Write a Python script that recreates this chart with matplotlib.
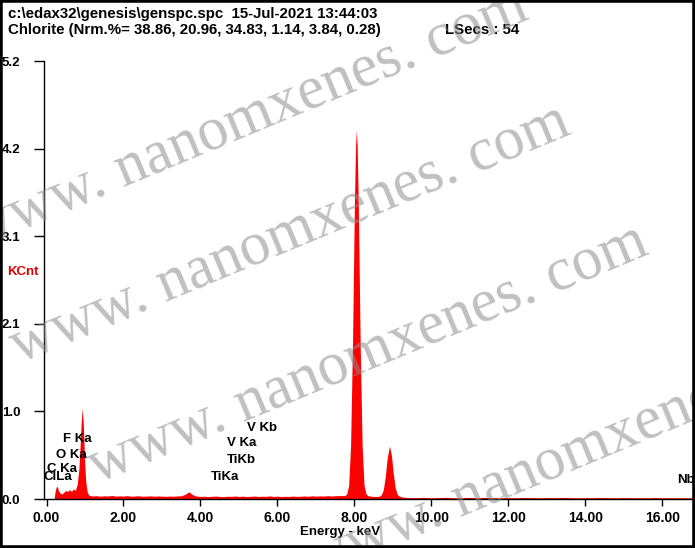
import matplotlib
matplotlib.use("Agg")
import matplotlib.pyplot as plt
from matplotlib.patches import Rectangle

# ---------------- data ----------------
energy_kev = [
    0.20, 0.22, 0.25, 0.28, 0.31, 0.35, 0.40, 0.45, 0.50, 0.55, 0.60, 0.65,
    0.70, 0.75, 0.80, 0.84, 0.87, 0.90, 0.93, 0.96, 0.99, 1.02, 1.06, 1.10,
    1.2, 1.3, 1.4, 1.5, 1.6, 1.7, 1.8, 1.9, 2.0, 2.1, 2.2, 2.3, 2.4, 2.5,
    2.6, 2.7, 2.8, 2.9, 3.0, 3.1, 3.2, 3.3, 3.4, 3.5, 3.6, 3.7, 3.8, 3.9,
    4.0, 4.1, 4.2, 4.3, 4.4, 4.5, 4.6, 4.7, 4.8, 4.9, 5.0, 5.1, 5.2, 5.3,
    5.4, 5.5, 5.6, 5.7, 5.8, 5.9, 6.0, 6.1, 6.2, 6.3, 6.4, 6.5, 6.6, 6.7,
    6.8, 6.9, 7.0, 7.1, 7.2, 7.3, 7.4, 7.5, 7.6, 7.7,
    7.75, 7.80, 7.85, 7.90, 7.95, 8.00, 8.03, 8.05, 8.07, 8.10, 8.15, 8.20,
    8.25, 8.30, 8.35, 8.40, 8.45, 8.50, 8.55, 8.60, 8.65, 8.70, 8.75, 8.80,
    8.85, 8.91, 8.96, 9.01, 9.06, 9.11, 9.16, 9.25,
    9.4, 9.6, 9.8, 10.0, 10.2, 10.4, 10.6, 10.8, 11.0, 11.2, 11.4, 11.6,
    11.8, 12.0, 12.2, 12.4, 12.6, 12.8, 13.0, 13.2, 13.4, 13.6, 13.8, 14.0,
    14.2, 14.4, 14.6, 14.8, 15.0, 15.2, 15.4, 15.6, 15.8, 16.0, 16.2, 16.4,
    16.6, 16.8,
]
counts_kcnt = [
    0.00, 0.08, 0.14, 0.15, 0.10, 0.07, 0.06, 0.08, 0.10, 0.09, 0.11, 0.09,
    0.12, 0.10, 0.18, 0.35, 0.60, 0.90, 1.08, 0.85, 0.45, 0.20, 0.08, 0.045,
    0.035, 0.040, 0.033, 0.038, 0.036, 0.042, 0.034, 0.037, 0.035, 0.040, 0.033, 0.036, 0.038, 0.032,
    0.035, 0.037, 0.033, 0.036, 0.034, 0.031, 0.035, 0.033, 0.036, 0.038, 0.055, 0.085, 0.050, 0.034,
    0.030, 0.033, 0.029, 0.032, 0.035, 0.030, 0.028, 0.033, 0.031, 0.036, 0.030, 0.034, 0.029, 0.032,
    0.035, 0.030, 0.033, 0.031, 0.037, 0.030, 0.034, 0.029, 0.032, 0.030, 0.035, 0.031, 0.033, 0.036,
    0.032, 0.038, 0.034, 0.037, 0.035, 0.040, 0.036, 0.039, 0.041, 0.040,
    0.040, 0.060, 0.160, 0.630, 1.830, 3.520, 4.200, 4.380, 4.200, 3.520, 1.830, 0.630,
    0.160, 0.060, 0.040, 0.035, 0.032, 0.030, 0.031, 0.030, 0.033, 0.050, 0.110, 0.260,
    0.480, 0.630, 0.520, 0.300, 0.130, 0.056, 0.035, 0.022,
    0.018, 0.016, 0.019, 0.015, 0.017, 0.020, 0.014, 0.016, 0.018, 0.015, 0.019, 0.016,
    0.014, 0.017, 0.015, 0.018, 0.016, 0.014, 0.017, 0.015, 0.019, 0.016, 0.014, 0.017,
    0.015, 0.018, 0.016, 0.014, 0.017, 0.015, 0.016, 0.014, 0.017, 0.015, 0.016, 0.014,
    0.015, 0.014,
]

x_ticks = [0, 2, 4, 6, 8, 10, 12, 14, 16]
x_tick_labels = ["0.00", "2.00", "4.00", "6.00", "8.00", "10.00", "12.00", "14.00", "16.00"]
y_ticks = [0.0, 1.04, 2.08, 3.12, 4.16, 5.2]
y_tick_labels = ["0.0", "1.0", "2.1", "3.1", "4.2", "5.2"]

peak_labels = ["F Ka", "O Ka", "C Ka", "ClLa", "V Kb", "V Ka", "TiKb", "TiKa", "Nb"]
peak_label_px = [(63, 439), (56, 455), (47, 469), (43, 477), (247, 428),
                 (227, 443), (227, 460), (211, 477), (677, 480)]

header_1 = "c:\\edax32\\genesis\\genspc.spc  15-Jul-2021 13:44:03"
header_2 = "Chlorite (Nrm.%= 38.86, 20.96, 34.83, 1.14, 3.84, 0.28)"
lsecs_text = "LSecs : 54"
watermark = "www. nanomxenes. com"
watermark_px = [(248, 120), (290, 235), (368, 355), (585, 450)]

# ---------------- figure ----------------
W, H = 695, 548
fig = plt.figure(figsize=(W / 100, H / 100), dpi=100)
fig.patch.set_facecolor("white")


def fx(x):
    return x / W


def fy(y):
    return 1 - y / H


BOLD = dict(family="Liberation Sans", fontweight="bold")

ax_left, ax_right, ax_top, ax_bot = 44, 692, 61, 499
ax = fig.add_axes([fx(ax_left), fy(ax_bot), (ax_right - ax_left) / W, (ax_bot - ax_top) / H])
ax.set_facecolor("none")
ax.fill_between(energy_kev, counts_kcnt, 0, color="#ff0000", linewidth=0, zorder=2)
ax.set_xlim(-0.065, 16.77)
ax.set_ylim(0, 5.2)
for s in ["top", "right"]:
    ax.spines[s].set_visible(False)
for s in ["left", "bottom"]:
    ax.spines[s].set_linewidth(1.0)
    ax.spines[s].set_color("black")
ax.set_xticks(x_ticks)
ax.set_xticklabels(x_tick_labels, fontsize=10, **BOLD)
ax.set_yticks(y_ticks)
ax.set_yticklabels(y_tick_labels, fontsize=9.5, **BOLD)
ax.tick_params(axis="x", direction="out", length=5, width=1, pad=4)
ax.tick_params(axis="y", direction="out", length=7, width=1, pad=10)

# header texts
fig.text(fx(8), fy(14), header_1, fontsize=10.8, va="center", ha="left", **BOLD)
fig.text(fx(8), fy(30), header_2, fontsize=10.8, va="center", ha="left", **BOLD)
fig.text(fx(445), fy(30), lsecs_text, fontsize=10.8, va="center", ha="left", **BOLD)
fig.text(fx(7), fy(272), "KCnt", fontsize=9.5, va="center", ha="left", color="#e00000", **BOLD)
fig.text(fx(300), fy(532), "Energy - keV", fontsize=9.5, va="center", ha="left", **BOLD)

for lab, (px, py) in zip(peak_labels, peak_label_px):
    fig.text(fx(px), fy(py), lab, fontsize=9.5, va="center", ha="left", **BOLD)

# watermark
for (px, py) in watermark_px:
    fig.text(fx(px), fy(py), watermark, fontsize=44, family="Liberation Serif",
             color="#8c8c8c", alpha=0.55, rotation=22.5, ha="center", va="center",
             rotation_mode="anchor", zorder=5)

# outer frame
fig.patches.append(Rectangle((0, 0), 1, 1, transform=fig.transFigure, fill=False,
                             edgecolor="black", linewidth=4, zorder=10))

fig.savefig("out.png", dpi=100)
